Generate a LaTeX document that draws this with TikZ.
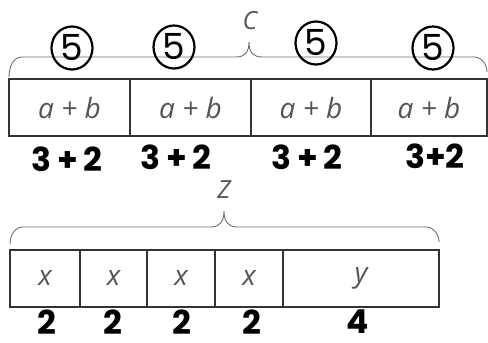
\documentclass[tikz,border=0pt]{standalone}
\usepackage{fontspec}
\newfontfamily\labfont{Open Sans}
\newfontfamily\handfont{Poppins}
\definecolor{labgrey}{HTML}{555555}
\definecolor{boxline}{HTML}{333333}
\definecolor{bracegrey}{HTML}{6E6E6E}
\tikzset{
  cell/.style={draw=boxline, line width=1.3pt, minimum height=57pt, inner sep=0pt, outer sep=0pt,
    font=\labfont\itshape\fontsize{28}{28}\selectfont, text=labgrey},
  bracepath/.style={draw=bracegrey, line width=0.9pt},
  bracelab/.style={font=\labfont\itshape\fontsize{25}{25}\selectfont, text=labgrey, inner sep=0pt},
  hand/.style={font=\handfont\bfseries\fontsize{33}{33}\selectfont, inner sep=0pt},
  five/.style={inner sep=0pt, font=\handfont\fontsize{36}{36}\selectfont},
  ringline/.style={draw=black, line width=2.2pt}
}
\begin{document}
\begin{tikzpicture}[x=1pt,y=-1pt]
\useasboundingbox[fill=white] (0,0) rectangle (488,343);

% top bar
\node[cell, minimum width=121pt] (t1) at (69.5,107.5) {a + b};
\node[cell, minimum width=121pt] (t2) at (190.5,107.5) {a + b};
\node[cell, minimum width=120pt] (t3) at (311,107.5) {a + b};
\node[cell, minimum width=116pt] (t4) at (429,107.5) {a + b};

% top brace
\draw[bracepath] (9,77) to[out=90,in=180] (22,57) -- (236,57)
  .. controls (245,57) and (249,52) .. (249,42)
  .. controls (249,52) and (253,57) .. (262,57) -- (474,57) to[out=0,in=90] (487,72);
\node[bracelab] (C) at (250,21) {C};

% circled fives
\node[five] (r1) at (72,48) {5};
\node[five] (r2) at (174,47) {5};
\node[five] (r3) at (316,43) {5};
\node[five] (r4) at (433,48) {5};
\foreach \r in {r1,r2,r3,r4}
  \draw[ringline] (\r.center) ellipse [x radius=20.5, y radius=21.5];

% sums under top bar
\node[hand] (s1) at (67,159) {3\,+\,2};
\node[hand] (s2) at (176,157) {3\,+\,2};
\node[hand] (s3) at (307,157) {3\,+\,2};
\node[hand] (s4) at (435,156) {3+2};

% bottom bar
\node[cell, minimum width=70pt] (b1) at (45,278.5) {x};
\node[cell, minimum width=67pt] (b2) at (113.5,278.5) {x};
\node[cell, minimum width=68pt] (b3) at (181,278.5) {x};
\node[cell, minimum width=68pt] (b4) at (249,278.5) {x};
\node[cell, minimum width=156pt] (b5) at (361,278.5) {y};

% bottom brace
\draw[bracepath] (10,244) to[out=90,in=180] (23,227) -- (211,227)
  .. controls (220,227) and (224,221) .. (224,211)
  .. controls (224,221) and (228,227) .. (237,227) -- (426,227) to[out=0,in=90] (439,242);
\node[bracelab] (Z) at (224,190) {Z};

% numbers under bottom bar
\node[hand] (n1) at (47,322) {2};
\node[hand] (n2) at (113,322) {2};
\node[hand] (n3) at (182,322) {2};
\node[hand] (n4) at (252,322) {2};
\node[hand] (n5) at (358,322) {4};
\end{tikzpicture}
\end{document}
